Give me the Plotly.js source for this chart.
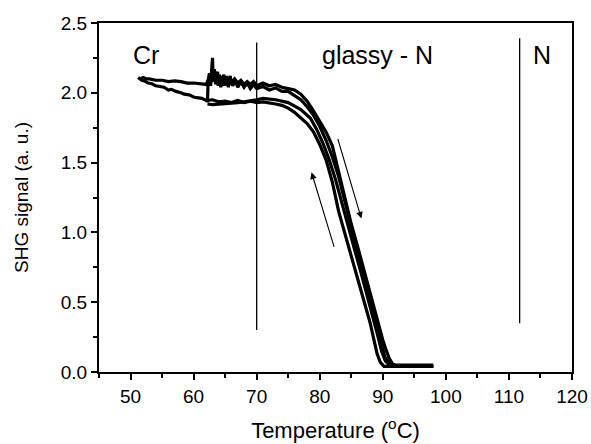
<!DOCTYPE html>
<html>
<head>
<meta charset="utf-8">
<script src="https://cdn.plot.ly/plotly-3.0.1.min.js"></script>
<style>html,body{margin:0;padding:0;background:#fff;}#chart{width:591px;height:444px;}</style>
</head>
<body>
<div id="chart"></div>
<script>
// ---- data ----
// first heating run (starts at 51.5 °C, upper line)
const heatA_T = [51.5,52,52.5,53,54,55,56,57,58,59,60,61,62,62.5,63,63.3,63.5,63.8,64,64.3,64.5,64.8,65,65.3,65.5,65.8,66,66.5,67,67.5,68,68.5,69,69.5,70,71,72,73,74,75,76,77,78,79,80,81,82,83,84,85,86,87,88,88.8,89.5,90,90.5,91,91.5,92.2,94,96,98];
const heatA_S = [2.10,2.11,2.10,2.10,2.09,2.09,2.08,2.085,2.08,2.07,2.07,2.065,2.06,2.11,2.08,2.14,2.09,2.15,2.07,2.12,2.09,2.13,2.07,2.11,2.08,2.12,2.07,2.10,2.07,2.09,2.06,2.08,2.06,2.08,2.05,2.07,2.05,2.06,2.04,2.03,2.02,1.99,1.94,1.87,1.80,1.72,1.62,1.43,1.23,1.06,0.90,0.73,0.57,0.44,0.32,0.23,0.16,0.10,0.06,0.04,0.045,0.04,0.04];
// first cooling run (left edge, back down to 51.2 °C)
const coolA_T = [98,96,94,92,91,90.2,89.6,89.1,88.6,88,87,86,85,84,83,82,81,80,79,78,77,76,75,74,73,72,71,70,69,68,67,66,65,64,63,62,61.3,60.5,60,59.3,58.5,58,57.2,56.5,56,55.3,54.6,54,53.4,52.8,52.2,51.8,51.5,51.2];
const coolA_S = [0.04,0.04,0.04,0.035,0.035,0.04,0.07,0.13,0.23,0.35,0.51,0.67,0.83,0.99,1.15,1.36,1.52,1.63,1.72,1.78,1.82,1.86,1.89,1.91,1.92,1.93,1.935,1.93,1.94,1.93,1.945,1.93,1.94,1.935,1.95,1.945,1.96,1.965,1.97,1.985,1.99,2.0,2.01,2.025,2.02,2.04,2.045,2.05,2.065,2.07,2.085,2.09,2.10,2.11];
// second cooling run (middle curve, stops at 62.2 °C)
const coolB_T = [98,94,91,90.4,89.8,89.2,88.5,87.5,86.5,85.5,84.5,83.5,82.5,81.5,80.5,79.5,78.5,77,75,73,71,70,69,68,67,66,65,64,63,62.2];
const coolB_S = [0.05,0.05,0.05,0.08,0.15,0.26,0.38,0.56,0.72,0.88,1.05,1.22,1.38,1.52,1.64,1.74,1.82,1.88,1.93,1.95,1.96,1.95,1.94,1.935,1.93,1.925,1.92,1.92,1.915,1.92];
// second heating run (noisy start with spike near 63 °C)
const heatB_T = [62.2,62.3,62.5,62.7,62.9,63.0,63.1,63.3,63.5,63.7,63.9,64.1,64.3,64.6,64.9,65.2,65.5,65.8,66.2,66.6,67,67.5,68,68.5,69,69.5,70,71,72,73,74,75,76,77,78,79,80,81,82,83,84,85,86,87,88,89,89.7,90.3,91,92,95,98];
const heatB_S = [1.93,2.08,2.14,2.05,2.19,2.25,2.10,2.17,2.06,2.15,2.05,2.13,2.04,2.11,2.05,2.12,2.04,2.10,2.05,2.09,2.04,2.08,2.04,2.07,2.03,2.06,2.03,2.045,2.02,2.035,2.01,2.01,1.98,1.95,1.90,1.84,1.76,1.66,1.54,1.40,1.22,1.03,0.85,0.67,0.50,0.33,0.20,0.11,0.06,0.045,0.04,0.04];

// phase boundaries and labels
const boundaryT = [70, 111.7];
const boundaryLow = [0.30, 0.35];
const boundaryHigh = [2.36, 2.39];
const phaseLabels = ['Cr', 'glassy - N', 'N'];
const phaseLabelT = [52.4, 89.2, 115.2];
const phaseLabelS = [2.27, 2.27, 2.27];

// heating / cooling direction arrows
const arrowTailT = [82.35, 82.8];
const arrowTailS = [0.886, 1.68];
const arrowHeadT = [78.7, 86.6];
const arrowHeadS = [1.43, 1.10];

const xTickVals = [50,60,70,80,90,100,110,120];
const yTickVals = [0.0,0.5,1.0,1.5,2.0,2.5];

// ---- build ----
const lineStyle = {color:'#000', width:3.2};
const runs = [[heatA_T,heatA_S],[coolA_T,coolA_S],[coolB_T,coolB_S],[heatB_T,heatB_S]];
const traces = runs.map(r => ({x:r[0], y:r[1], mode:'lines', line:lineStyle, hoverinfo:'skip', showlegend:false}));
boundaryT.forEach((t,i) => traces.push({x:[t,t], y:[boundaryLow[i],boundaryHigh[i]], mode:'lines', line:{color:'#000', width:1.3}, showlegend:false, hoverinfo:'skip'}));

const annotations = [];
phaseLabels.forEach((s,i) => annotations.push({x:phaseLabelT[i], y:phaseLabelS[i], xref:'x', yref:'y', text:s, showarrow:false, font:{size:25, color:'#000'}}));
arrowHeadT.forEach((t,i) => annotations.push({x:t, y:arrowHeadS[i], ax:arrowTailT[i], ay:arrowTailS[i], xref:'x', yref:'y', axref:'x', ayref:'y', text:'', showarrow:true, arrowhead:2, arrowsize:1.2, arrowwidth:1.1, arrowcolor:'#000'}));

const axisCommon = {showgrid:false, zeroline:false, showline:true, linecolor:'#000', linewidth:2, mirror:true, ticks:'outside', ticklen:6, tickwidth:2, tickcolor:'#000', tickfont:{size:19, color:'#000'}};

const layout = {
  width:591, height:444,
  margin:{l:99, r:19, t:23, b:72},
  paper_bgcolor:'#fff', plot_bgcolor:'#fff',
  font:{family:'"Liberation Sans", Arial, sans-serif', color:'#000'},
  showlegend:false,
  xaxis:Object.assign({}, axisCommon, {range:[45,120], tickvals:xTickVals, ticktext:xTickVals.map(String),
    minor:{dtick:5, tick0:0, ticks:'outside', ticklen:4, tickwidth:2, tickcolor:'#000'},
    title:{text:'Temperature (<sup>o</sup>C)', font:{size:22}, standoff:17}}),
  yaxis:Object.assign({}, axisCommon, {range:[0,2.5], tickvals:yTickVals, ticktext:yTickVals.map(v=>v.toFixed(1)),
    minor:{dtick:0.25, tick0:0, ticks:'outside', ticklen:4, tickwidth:2, tickcolor:'#000'},
    title:{text:'SHG signal (a. u.)', font:{size:19}, standoff:27}}),
  annotations:annotations
};
Plotly.newPlot('chart', traces, layout, {staticPlot:true, displayModeBar:false});
</script>
</body>
</html>
